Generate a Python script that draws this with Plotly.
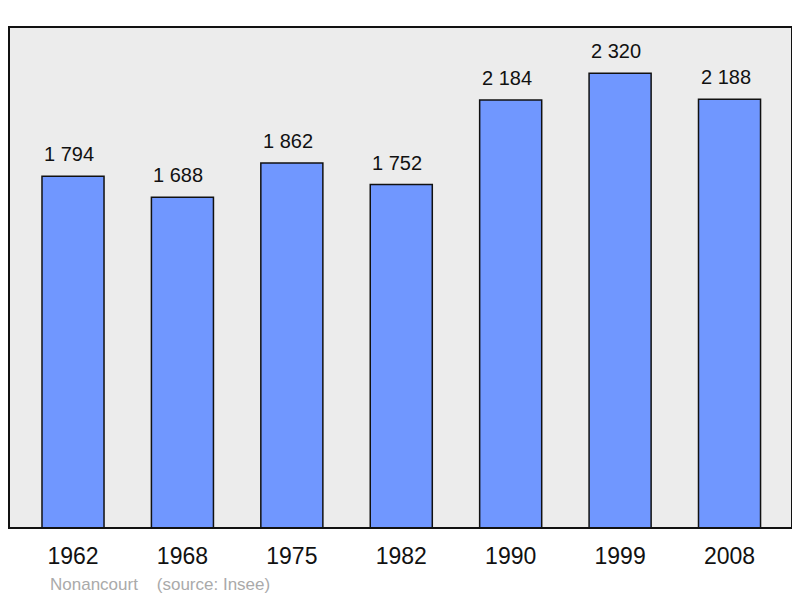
import plotly.graph_objects as go

years = ["1962", "1968", "1975", "1982", "1990", "1999", "2008"]
population = [1794, 1688, 1862, 1752, 2184, 2320, 2188]
town = "Nonancourt"
source = "(source: Insee)"

xs = list(range(len(years)))
FONT = "Liberation Sans, Arial, sans-serif"

fig = go.Figure()
fig.add_trace(go.Bar(
    x=xs, y=population, width=0.567,
    marker=dict(color="#7097ff", line=dict(color="#111111", width=1.5)),
    hoverinfo="skip",
))

annotations = []
for x, v in zip(xs, population):
    annotations.append(dict(
        x=x, y=v, xref="x", yref="y", text=f"{v:,}".replace(",", " "),
        showarrow=False, yanchor="bottom", yshift=9, xshift=-4,
        font=dict(family=FONT, size=20, color="#111111"),
    ))
annotations.append(dict(
    x=0.0498, y=-0.1118, xref="paper", yref="paper",
    text=f"{town}&nbsp;&nbsp;&nbsp;&nbsp;{source}", showarrow=False,
    xanchor="left", yanchor="middle",
    font=dict(family=FONT, size=17, color="#aaaaaa"),
))

fig.update_layout(
    width=792, height=590,
    margin=dict(l=1, r=8, t=19, b=70),
    paper_bgcolor="white", plot_bgcolor="#ececec",
    showlegend=False,
    annotations=annotations,
    xaxis=dict(range=[-0.585, 6.571], tickvals=xs, ticktext=years,
               showgrid=False, zeroline=False, showline=False, ticks="",
               ticklabelstandoff=12,
               tickfont=dict(family=FONT, size=23, color="#111111")),
    yaxis=dict(range=[0, 2556], showgrid=False, zeroline=False, showline=False,
               showticklabels=False, ticks=""),
    shapes=[dict(type="rect", xref="paper", yref="paper", x0=0, x1=1, y0=0, y1=1,
                 line=dict(color="#111111", width=2), layer="above")],
)

fig.write_html("out.html")
